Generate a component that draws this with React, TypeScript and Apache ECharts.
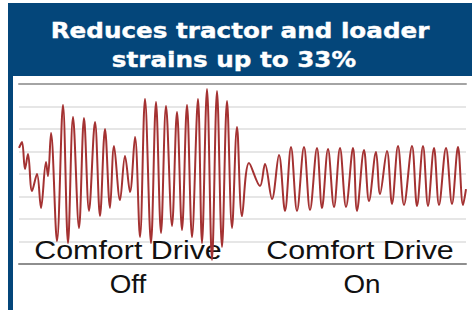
import React, { useEffect, useRef } from "react";
import * as echarts from "echarts";

const times = [
  0, 3, 6, 9, 13, 18, 22, 27, 29, 32, 38, 44, 49, 54, 60, 65, 70, 76, 81, 86,
  91, 95, 101, 106, 111, 116, 121, 126, 132, 137, 142, 147, 153, 158, 163, 168,
  173, 179, 183, 188, 193, 198, 203, 208, 213, 218, 223, 230, 241, 246, 253,
  260, 266, 272, 278, 285, 291, 298, 303, 309, 315, 321, 327, 334, 338, 345,
  350, 357, 361, 368, 373, 379, 385, 393, 398, 404, 409, 415, 420, 427, 433,
  439, 444, 447,
];
const strain = [
  51.6, 54.2, 42.2, 48.9, 32.4, 40.0, 24.9, 45.3, 39.1, 58.2, 10.2, 70.7, 9.3,
  65.3, 16.0, 64.9, 23.6, 63.1, 21.3, 60.0, 24.9, 52.4, 28.4, 48.0, 32.0, 56.4,
  12.0, 73.3, 9.3, 72.0, 13.8, 70.2, 16.9, 67.6, 15.1, 70.7, 12.0, 73.3, 9.3,
  77.8, 1.8, 76.9, 7.6, 72.4, 16.0, 60.9, 21.3, 44.9, 34.7, 44.4, 28.9, 48.4,
  23.6, 52.0, 23.6, 52.0, 24.0, 51.6, 24.9, 51.1, 25.3, 51.6, 25.3, 51.6, 23.6,
  50.7, 28.0, 49.8, 31.1, 50.2, 26.7, 52.4, 26.2, 52.4, 25.8, 52.4, 25.8, 51.6,
  26.2, 51.6, 26.7, 52.0, 26.2, 33.3,
];
const titleLines = ["Reduces tractor and loader", "strains up to 33%"];
const phaseNames = ["Comfort Drive", "Comfort Drive"];
const phaseStates = ["Off", "On"];

export default function App() {
  const ref = useRef<HTMLDivElement>(null);
  useEffect(() => {
    if (!ref.current) return;
    const chart = echarts.init(ref.current, undefined, { renderer: "svg" });
    const data = times.map((t, i) => [t, strain[i]]);
    const blue = "#04467a";
    const labelFont = '"Liberation Sans", Arial, sans-serif';
    const titleStyle = {
      fill: "#ffffff",
      stroke: "#ffffff",
      lineWidth: 0.4,
      font: 'bold 22px "DejaVu Sans", sans-serif',
      align: "center",
      verticalAlign: "middle",
    };
    chart.setOption({
      animation: false,
      backgroundColor: "#ffffff",
      grid: { left: 19, right: 6, top: 84, bottom: 46 },
      xAxis: [
        {
          type: "value",
          min: 0,
          max: 447,
          position: "bottom",
          axisLine: { show: true, lineStyle: { color: "#8e8e8e", width: 2 } },
          axisTick: { show: false },
          axisLabel: { show: false },
          splitLine: { show: false },
        },
        {
          type: "value",
          min: 0,
          max: 447,
          position: "top",
          axisLine: { show: true, lineStyle: { color: "#a4a4a4", width: 2 } },
          axisTick: { show: false },
          axisLabel: { show: false },
          splitLine: { show: false },
        },
      ],
      yAxis: {
        type: "value",
        min: 0,
        max: 80,
        interval: 10,
        axisLine: { show: false },
        axisTick: { show: false },
        axisLabel: { show: false },
        splitLine: { show: true, lineStyle: { color: "#dedede", width: 1.5 } },
      },
      series: [
        {
          type: "line",
          data,
          xAxisIndex: 0,
          showSymbol: false,
          smooth: 0.35,
          z: 3,
          lineStyle: { color: "#a43232", width: 2 },
        },
      ],
      graphic: [
        { type: "rect", shape: { x: 8, y: 3, width: 464, height: 73 }, style: { fill: blue }, z: 10 },
        { type: "rect", shape: { x: 8, y: 3, width: 5, height: 307 }, style: { fill: blue }, z: 10 },
        {
          type: "text",
          x: 240,
          y: 30,
          scaleX: 1.12,
          z: 11,
          style: { ...titleStyle, text: titleLines[0] },
        },
        {
          type: "text",
          x: 234,
          y: 59,
          scaleX: 1.12,
          z: 11,
          style: { ...titleStyle, text: titleLines[1] },
        },
        {
          type: "text",
          x: 128,
          y: 250,
          scaleX: 1.17,
          z: 1,
          style: { text: phaseNames[0], fill: "#111111", font: `26px ${labelFont}`, align: "center", verticalAlign: "middle" },
        },
        {
          type: "text",
          x: 128,
          y: 284,
          scaleX: 1.07,
          z: 1,
          style: { text: phaseStates[0], fill: "#111111", font: `26px ${labelFont}`, align: "center", verticalAlign: "middle" },
        },
        {
          type: "text",
          x: 360,
          y: 250,
          scaleX: 1.17,
          z: 1,
          style: { text: phaseNames[1], fill: "#111111", font: `26px ${labelFont}`, align: "center", verticalAlign: "middle" },
        },
        {
          type: "text",
          x: 362,
          y: 284,
          scaleX: 1.07,
          z: 1,
          style: { text: phaseStates[1], fill: "#111111", font: `26px ${labelFont}`, align: "center", verticalAlign: "middle" },
        },
      ],
    });
    return () => chart.dispose();
  }, []);
  return (
    <div
      ref={ref}
      style={{ position: "fixed", left: 0, top: 0, width: 472, height: 310 }}
    />
  );
}
